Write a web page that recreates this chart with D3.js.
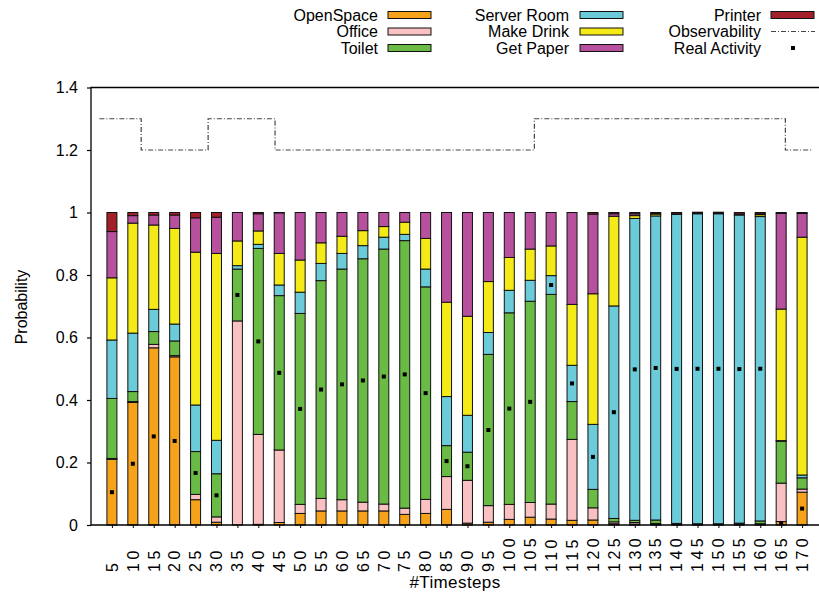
<!DOCTYPE html>
<html>
<head>
<meta charset="utf-8">
<script src="https://cdn.jsdelivr.net/npm/d3@7"></script>
<style>
  body { margin: 0; background: #fff; }
  text { font-family: "Liberation Sans", Arial, sans-serif; fill: #000; }
</style>
</head>
<body>
<div id="chart"></div>
<script>
// timesteps on the x axis
var timesteps = [5,10,15,20,25,30,35,40,45,50,55,60,65,70,75,80,85,90,95,100,
                 105,110,115,120,125,130,135,140,145,150,155,160,165,170];

var categories = ["OpenSpace","Office","Toilet","Server Room","Make Drink","Get Paper","Printer"];
var colors = ["#f7a21b","#f9c1c1","#6abb45","#6ccbd9","#f3ea17","#b8519d","#a3202a"];

// probability of each activity per timestep
var openSpace = [0.210,0.392,0.567,0.538,0.081,0.009,0.000,0.002,0.008,0.037,0.045,0.045,0.045,0.045,0.034,0.037,0.050,
                 0.006,0.009,0.018,0.025,0.019,0.015,0.016,0.004,0.003,0.002,0.001,0.001,0.001,0.001,0.002,0.011,0.105];
var office    = [0.003,0.003,0.011,0.004,0.017,0.017,0.653,0.288,0.232,0.029,0.040,0.036,0.028,0.022,0.020,0.045,0.105,
                 0.137,0.053,0.048,0.047,0.048,0.259,0.039,0.006,0.005,0.003,0.001,0.001,0.001,0.002,0.002,0.123,0.010];
var toilet    = [0.192,0.032,0.041,0.047,0.137,0.138,0.166,0.595,0.494,0.611,0.697,0.738,0.779,0.816,0.856,0.680,0.099,
                 0.090,0.484,0.613,0.644,0.671,0.121,0.059,0.011,0.007,0.011,0.003,0.002,0.002,0.003,0.009,0.134,0.036];
var serverRoom= [0.187,0.187,0.071,0.054,0.149,0.107,0.011,0.013,0.034,0.068,0.055,0.050,0.042,0.038,0.020,0.057,0.157,
                 0.118,0.070,0.072,0.067,0.060,0.116,0.208,0.680,0.966,0.973,0.989,0.992,0.992,0.986,0.974,0.002,0.009];
var makeDrink = [0.199,0.352,0.270,0.306,0.489,0.598,0.079,0.043,0.101,0.103,0.066,0.055,0.048,0.034,0.039,0.098,0.302,
                 0.317,0.163,0.105,0.100,0.095,0.195,0.418,0.287,0.009,0.006,0.000,0.000,0.000,0.000,0.006,0.421,0.761];
var getPaper  = [0.148,0.024,0.032,0.043,0.110,0.116,0.091,0.055,0.130,0.152,0.097,0.076,0.058,0.045,0.031,0.083,0.287,
                 0.332,0.221,0.144,0.117,0.107,0.294,0.255,0.008,0.006,0.002,0.002,0.002,0.002,0.003,0.003,0.306,0.076];
var printer   = [0.061,0.010,0.008,0.008,0.017,0.015,0.000,0.004,0.001,0.000,0.000,0.000,0.000,0.000,0.000,0.000,0.000,
                 0.000,0.000,0.000,0.000,0.000,0.000,0.005,0.004,0.004,0.003,0.004,0.003,0.003,0.005,0.004,0.003,0.003];

// index (in categories) of the real activity at each timestep
var realActivity = [0,0,0,0,2,2,2,2,2,2,2,2,2,2,2,2,2,2,2,2,2,3,3,3,3,3,3,3,3,3,3,3,0,0];

// observability step line (timestep where each level starts, and its level)
var obsStart = [2,12,28,44,106,166];
var obsLevel = [1.3,1.2,1.3,1.2,1.3,1.2];
var obsEnd = 172.6;

var yTicks = [0,0.2,0.4,0.6,0.8,1,1.2,1.4];

var W = 819, H = 598;
var plotL = 91, plotR = 823, plotT = 87.5, plotB = 525;

var svg = d3.select("#chart").append("svg")
  .attr("width", W).attr("height", H);

var series = [openSpace, office, toilet, serverRoom, makeDrink, getPaper, printer];
var table = timesteps.map(function(t, i) {
  var row = {t: t};
  categories.forEach(function(c, k) { row[c] = series[k][i]; });
  return row;
});
var stacked = d3.stack().keys(categories)(table);

// x in timestep units, bar i sits at 5*(i+1), one empty slot padded at each side
var xt = d3.scaleLinear().domain([0, 175]).range([plotL, plotR]);
var y = d3.scaleLinear().domain([0, 1.4]).range([plotB, plotT]);
var barW = 10;

// bars
var layers = svg.append("g").selectAll("g").data(stacked).enter().append("g")
  .attr("fill", function(d, k) { return colors[k]; });
layers.selectAll("rect").data(function(d) { return d; }).enter().append("rect")
  .attr("x", function(d) { return xt(d.data.t) - barW / 2; })
  .attr("y", function(d) { return y(d[1]); })
  .attr("width", barW)
  .attr("height", function(d) { return Math.max(0, y(d[0]) - y(d[1])); })
  .attr("stroke", "#111").attr("stroke-width", 1);

// real activity dots: middle of that activity's segment
svg.append("g").selectAll("rect").data(timesteps).enter().append("rect")
  .attr("x", function(t) { return xt(t) - 2; })
  .attr("y", function(t, i) {
    var seg = stacked[realActivity[i]][i];
    return y((seg[0] + seg[1]) / 2) - 2;
  })
  .attr("width", 4).attr("height", 4).attr("fill", "#000");

// observability
var obsPts = obsStart.map(function(s, i) { return [s, obsLevel[i]]; });
obsPts.push([obsEnd, obsLevel[obsLevel.length - 1]]);
svg.append("path")
  .attr("d", d3.line().curve(d3.curveStepAfter)
    .x(function(d) { return xt(d[0]); })
    .y(function(d) { return y(d[1]); })(obsPts))
  .attr("fill", "none").attr("stroke", "#444").attr("stroke-width", 1.2)
  .attr("stroke-dasharray", "5,2,1,2");

// axes
var yAxis = svg.append("g").attr("transform", "translate(" + plotL + ",0)")
  .call(d3.axisLeft(y).tickValues(yTicks).tickSize(4).tickPadding(9)
    .tickFormat(function(d) { return d3.format("~g")(d); }));
yAxis.select(".domain").remove();
yAxis.selectAll("text").style("font-size", "16px").style("font-family", "Liberation Sans, Arial, sans-serif");
yAxis.selectAll("line").attr("stroke", "#000").attr("stroke-width", 1.2);

var xAxis = svg.append("g").attr("transform", "translate(0," + plotB + ")")
  .call(d3.axisBottom(xt).tickValues(timesteps).tickSize(3).tickFormat(""));
xAxis.select(".domain").remove();
xAxis.selectAll("line").attr("stroke", "#000");

svg.append("g").selectAll("text").data(timesteps).enter().append("text")
  .attr("transform", function(t) { return "translate(" + xt(t) + ",572) rotate(-90)"; })
  .attr("dy", "0.36em")
  .style("font-size", "16px").style("letter-spacing", "3.5px")
  .text(function(t) { return t; });

// frame
svg.append("path")
  .attr("d", "M" + plotR + "," + plotT + "H" + plotL + "V" + plotB + "H" + plotR)
  .attr("fill", "none").attr("stroke", "#000").attr("stroke-width", 1.3);

// axis titles
svg.append("text").attr("transform", "translate(27,307) rotate(-90)")
  .attr("text-anchor", "middle").style("font-size", "16px").text("Probability");
svg.append("text").attr("x", 455).attr("y", 588)
  .attr("text-anchor", "middle").style("font-size", "17px").style("letter-spacing", "0.4px")
  .text("#Timesteps");

// legend
var legCols = [
  {textX: 378, boxX: 388},
  {textX: 569, boxX: 580},
  {textX: 761, boxX: 771}
];
var legRows = [15, 31.5, 48];
var legItems = categories.map(function(c, k) { return {name: c, color: colors[k], type: "box"}; });
legItems.push({name: "Observability", type: "line"});
legItems.push({name: "Real Activity", type: "dot"});

var leg = svg.append("g");
legItems.forEach(function(it, i) {
  var col = legCols[Math.floor(i / 3)], ry = legRows[i % 3];
  leg.append("text").attr("x", col.textX).attr("y", ry).attr("dy", "0.35em")
    .attr("text-anchor", "end").style("font-size", "16px").text(it.name);
  if (it.type === "box") {
    leg.append("rect").attr("x", col.boxX).attr("y", ry - 3.5)
      .attr("width", 43).attr("height", 7)
      .attr("fill", it.color).attr("stroke", "#111").attr("stroke-width", 1);
  } else if (it.type === "line") {
    leg.append("line").attr("x1", col.boxX).attr("x2", col.boxX + 44)
      .attr("y1", ry).attr("y2", ry)
      .attr("stroke", "#444").attr("stroke-width", 1).attr("stroke-dasharray", "5,2,1,2");
  } else {
    leg.append("rect").attr("x", col.boxX + 20).attr("y", ry - 2)
      .attr("width", 4).attr("height", 4).attr("fill", "#000");
  }
});
</script>
</body>
</html>
